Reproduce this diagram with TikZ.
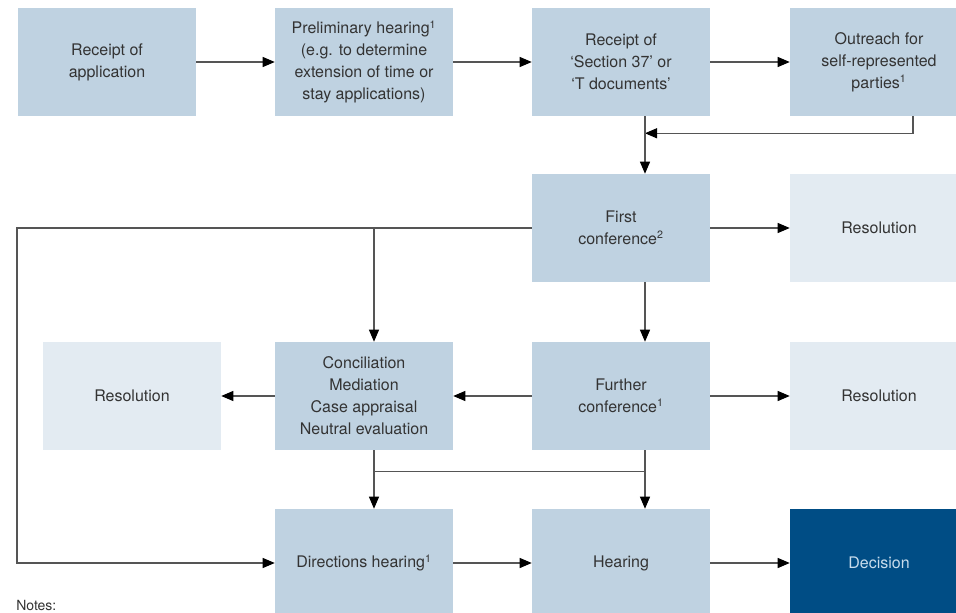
\documentclass[tikz,border=0pt]{standalone}
\usepackage{fontspec}
\setmainfont{TeX Gyre Heros}
\usepackage{tikz}
\usetikzlibrary{arrows.meta, calc}

\definecolor{boxblue}{HTML}{BFD2E1}
\definecolor{paleblue}{HTML}{E3EBF2}
\definecolor{darkblue}{HTML}{004D85}
\definecolor{txtgray}{HTML}{333333}
\definecolor{lighttxt}{HTML}{C8DCEC}
\definecolor{linegray}{HTML}{555555}

\tikzset{
  box/.style={fill=boxblue, text=txtgray, minimum width=133.5pt, minimum height=81pt,
    align=center, inner sep=2pt, font=\fontsize{12}{16.5}\selectfont},
  pale/.style={box, fill=paleblue},
  dark/.style={box, fill=darkblue, text=lighttxt},
  link/.style={draw=linegray, line width=0.8pt},
  arr/.style={link, -{Triangle[length=9pt, width=7.5pt, color=black]}}
}

\begin{document}
\begin{tikzpicture}[x=0.75pt, y=-0.75pt]
\useasboundingbox (0,0) rectangle (956,613);
% top row
\node[box] (receipt) at (107,62) {Receipt of\\application};
\node[box] (prelim) at (364,62) {Preliminary hearing\textsuperscript{1}\\(e.g. to determine\\extension of time or\\stay applications)};
\node[box] (docs) at (621,62) {Receipt of\\‘Section 37’ or\\‘T documents’};
\node[box] (outreach) at (879,62) {Outreach for\\self-represented\\parties\textsuperscript{1}};
% conferences
\node[box] (first) at (621,228) {First\\conference\textsuperscript{2}};
\node[pale] (res1) at (879,228) {Resolution};
\node[pale] (res2) at (132,396) {Resolution};
\node[box] (adr) at (364,396) {Conciliation\\Mediation\\Case appraisal\\Neutral evaluation};
\node[box] (further) at (621,396) {Further\\conference\textsuperscript{1}};
\node[pale] (res3) at (879,396) {Resolution};
% bottom row
\node[box] (directions) at (364,563) {Directions hearing\textsuperscript{1}};
\node[box] (hearing) at (621,563) {Hearing};
\node[dark] (decision) at (879,563) {Decision};
\node[anchor=base west, inner sep=0pt, text=txtgray, font=\fontsize{10.5}{12}\selectfont] (notes) at (16,610) {Notes:};

\coordinate (join) at ($(docs.south)+(24,17)$);
\coordinate (corner) at (17,228);
\coordinate (branch) at ($(adr.north)+(10,0)$);

% connectors
\draw[arr] (receipt) -- (prelim);
\draw[arr] (prelim) -- (docs);
\draw[arr] (docs) -- (outreach);
\draw[arr] ($(outreach.south)+(34,0)$) |- (join);
\draw[arr] ($(docs.south)+(24,0)$) -- ($(first.north)+(24,0)$);
\draw[arr] (first) -- (res1);
\draw[arr] (first.west) -- (corner) |- (directions.west);
\draw[arr] (branch |- first.west) -- (branch);
\draw[arr] ($(first.south)+(24,0)$) -- ($(further.north)+(24,0)$);
\draw[arr] (further) -- (adr);
\draw[arr] (adr) -- (res2);
\draw[arr] (further) -- (res3);
\draw[arr] ($(adr.south)+(10,0)$) -- ($(directions.north)+(10,0)$);
\draw[arr] ($(further.south)+(24,0)$) -- ($(hearing.north)+(24,0)$);
\draw[link] ($(adr.south)+(10,21)$) -- ($(further.south)+(24,21)$);
\draw[arr] (directions) -- (hearing);
\draw[arr] (hearing) -- (decision);
\end{tikzpicture}
\end{document}
